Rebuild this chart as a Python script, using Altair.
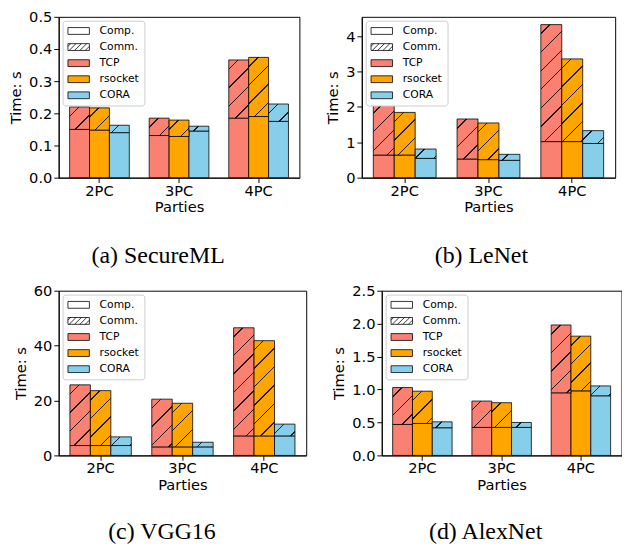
import altair as alt

PARTIES = ["2PC", "3PC", "4PC"]
PROTOS = ["TCP", "rsocket", "CORA"]
PROTO_FILLS = ["salmon", "orange", "skyblue"]
LEGEND_KEYS = ["Comp.", "Comm.", "TCP", "rsocket", "CORA"]
LEGEND_FILLS = ["white", "white", "salmon", "orange", "skyblue"]

# computation time and total time (s), per protocol, for 2PC, 3PC, 4PC
SECUREML_COMP = {"TCP": [0.150, 0.131, 0.185], "rsocket": [0.148, 0.128, 0.190], "CORA": [0.140, 0.145, 0.175]}
SECUREML_TOTAL = {"TCP": [0.220, 0.185, 0.366], "rsocket": [0.217, 0.179, 0.374], "CORA": [0.163, 0.160, 0.229]}

LENET_COMP = {"TCP": [0.64, 0.527, 1.02], "rsocket": [0.64, 0.51, 1.02], "CORA": [0.545, 0.49, 0.967]}
LENET_TOTAL = {"TCP": [2.08, 1.66, 4.33], "rsocket": [1.846, 1.547, 3.36], "CORA": [0.81, 0.66, 1.33]}

VGG16_COMP = {"TCP": [3.6, 3.1, 7.1], "rsocket": [3.6, 3.1, 7.1], "CORA": [3.6, 3.1, 7.1]}
VGG16_TOTAL = {"TCP": [25.7, 20.5, 46.5], "rsocket": [23.6, 19.0, 41.8], "CORA": [6.75, 4.8, 11.4]}

ALEXNET_COMP = {"TCP": [0.47, 0.425, 0.95], "rsocket": [0.485, 0.425, 0.98], "CORA": [0.42, 0.425, 0.905]}
ALEXNET_TOTAL = {"TCP": [1.03, 0.825, 1.98], "rsocket": [0.975, 0.80, 1.81], "CORA": [0.51, 0.50, 1.055]}

FONT = "DejaVu Sans"
PAD_INNER = 0.25
PAD_OUTER = 0.1375


def hatch_gradient(color, w, h, spacing=19.0, thick=1.5, ink="#1a1a1a"):
    """Linear gradient drawing '/' hatch lines at 45 degrees on a w x h px rect."""
    span = w + h
    s = span / (w * w + h * h)
    stops = [{"offset": 0, "color": color}]
    c = spacing * 0.5
    while c - thick / 2 < span:
        t0 = max(0.0, (c - thick / 2) / span)
        t1 = min(1.0, (c + thick / 2) / span)
        stops += [{"offset": t0, "color": color}, {"offset": t0, "color": ink},
                  {"offset": t1, "color": ink}, {"offset": t1, "color": color}]
        c += spacing
    stops.append({"offset": 1, "color": color})
    return {"gradient": "linear", "x1": 0, "y1": 0, "x2": s * w, "y2": s * h, "stops": stops}


def legend_paths():
    rect = "M-1,-0.7H3.4V0.7H-1Z"
    lines = ""
    x0 = -2.4 + 0.55
    while x0 < 3.4:
        tmin = max(0.0, (-1 - x0) / 1.4)
        tmax = min(1.0, (3.4 - x0) / 1.4)
        if tmin < tmax:
            ax, ay = x0 + tmin * 1.4, 0.7 - tmin * 1.4
            bx, by = x0 + tmax * 1.4, 0.7 - tmax * 1.4
            lines += f" M{ax:.3f},{ay:.3f}L{bx:.3f},{by:.3f}"
        x0 += 1.1
    return [rect, rect + lines, rect, rect, rect]


LEGEND_PATHS = legend_paths()


def panel(comp, total, ymax, yvalues, yformat, width, height, caption, cap_dx, cap_offset):
    step = width / (len(PARTIES) - PAD_INNER + 2 * PAD_OUTER)
    barw = step * (1 - PAD_INNER) / len(PROTOS)
    records = []
    for i, p in enumerate(PARTIES):
        for j, proto in enumerate(PROTOS):
            c, t = comp[proto][i], total[proto][i]
            hpx = (t - c) / ymax * height
            records.append({"party": p, "proto": proto, "comp": c, "total": t,
                            "grad": hatch_gradient(PROTO_FILLS[j], barw, max(hpx, 0.5))})
    data = alt.Data(values=records)

    x = alt.X("party:N", sort=PARTIES,
              scale=alt.Scale(paddingInner=PAD_INNER, paddingOuter=PAD_OUTER),
              axis=alt.Axis(title="Parties", labelAngle=0, tickSize=5, labelPadding=1,
                            titlePadding=2))
    xo = alt.XOffset("proto:N", sort=PROTOS, scale=alt.Scale(paddingInner=0, paddingOuter=0))
    yscale = alt.Scale(domain=[0, ymax], nice=False, zero=True)
    yaxis = alt.Axis(title="Time: s", values=yvalues, format=yformat, tickSize=5,
                     labelPadding=2, titlePadding=5)

    comp_bars = alt.Chart(data).mark_bar(stroke="black", strokeWidth=0.8).encode(
        x=x, xOffset=xo,
        y=alt.Y("comp:Q", scale=yscale, axis=yaxis),
        y2=alt.datum(0),
        color=alt.Color("proto:N", scale=alt.Scale(domain=PROTOS, range=PROTO_FILLS), legend=None),
    )
    comm_bars = alt.Chart(data).mark_bar(stroke="black", strokeWidth=0.8).encode(
        x=x, xOffset=xo,
        y=alt.Y("comp:Q", scale=yscale, axis=yaxis),
        y2="total:Q",
        fill=alt.Fill("grad:N", scale=None),
    )
    leg = alt.Legend(title=None, orient="top-left", offset=4, padding=5, rowPadding=4.5,
                     labelOffset=22, labelFont=FONT, labelFontSize=11, labelColor="black",
                     symbolSize=100, symbolStrokeColor="black", symbolStrokeWidth=0.8,
                     symbolOpacity=1, fillColor="white", strokeColor="#cccccc",
                     cornerRadius=3, labelLimit=200)
    legend_layer = alt.Chart(alt.Data(values=[{"key": k} for k in LEGEND_KEYS])).mark_point(
        filled=True, opacity=0, stroke="black", strokeWidth=0.8
    ).encode(
        fill=alt.Fill("key:N", scale=alt.Scale(domain=LEGEND_KEYS, range=LEGEND_FILLS), legend=leg),
        shape=alt.Shape("key:N", scale=alt.Scale(domain=LEGEND_KEYS, range=LEGEND_PATHS), legend=leg),
    )
    return alt.layer(comp_bars, comm_bars, legend_layer).properties(
        width=width, height=height,
        title=alt.TitleParams(text=caption, orient="bottom", anchor="middle", frame="bounds",
                              font="Liberation Serif", fontSize=24.5, fontWeight="normal",
                              color="black", offset=cap_offset, dx=cap_dx),
    )


a = panel(SECUREML_COMP, SECUREML_TOTAL, 0.5, [0, 0.1, 0.2, 0.3, 0.4, 0.5], ".1f", 247, 165, "(a) SecureML", 4, 31)
b = panel(LENET_COMP, LENET_TOTAL, 4.55, [0, 1, 2, 3, 4], "d", 260, 165, "(b) LeNet", 11, 31)
c = panel(VGG16_COMP, VGG16_TOTAL, 60, [0, 20, 40, 60], "d", 254, 169, "(c) VGG16", 2, 29)
d = panel(ALEXNET_COMP, ALEXNET_TOTAL, 2.5, [0, 0.5, 1.0, 1.5, 2.0, 2.5], ".1f", 246, 169, "(d) AlexNet", 9, 29)

RES = dict(x="independent", y="independent", xOffset="independent", color="independent",
           fill="independent", shape="independent")

row1 = alt.hconcat(a, b, spacing=25).resolve_scale(**RES)
row2 = alt.hconcat(c, d, spacing=24.5).resolve_scale(**RES)

chart = alt.vconcat(row1, row2, spacing=15).resolve_scale(**RES).properties(
    padding={"left": 0, "top": -6, "right": 0, "bottom": 0}
).configure_view(stroke="black", strokeWidth=1).configure_axis(
    labelFont=FONT, titleFont=FONT, labelFontSize=15, titleFontSize=15,
    titleFontWeight="normal", labelColor="black", titleColor="black",
    domainColor="black", tickColor="black", grid=False, domainWidth=1, tickWidth=1,
)

chart.save("out.html", embed_options={"renderer": "svg", "actions": False})
